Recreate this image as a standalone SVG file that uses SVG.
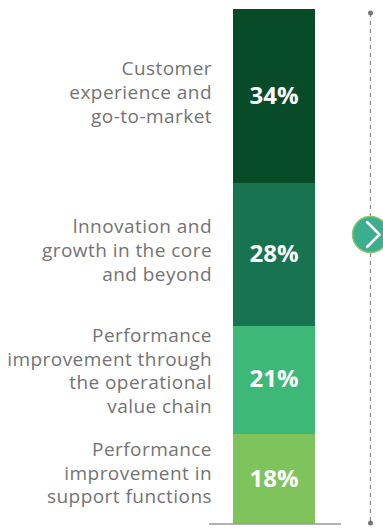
<svg xmlns="http://www.w3.org/2000/svg" width="383" height="528" viewBox="0 0 383 528">
<style>
.lbl{font-family:"Open Sans","Liberation Sans",sans-serif;font-size:19px;fill:#737373;text-anchor:end;letter-spacing:0.45px}
.pct{font-family:"Open Sans","Liberation Sans",sans-serif;font-size:24px;font-weight:bold;fill:#ffffff;text-anchor:middle}
</style>
<rect width="383" height="528" fill="#ffffff"/>
<g id="seg1">
<rect x="233" y="9" width="82" height="174" fill="#074b29"/>
<text class="pct" x="274" y="104">34%</text>
<text class="lbl" x="212" y="75">Customer<tspan x="212" dy="24">experience and</tspan><tspan x="212" dy="24">go-to-market</tspan></text>
</g>
<g id="seg2">
<rect x="233" y="183" width="82" height="143" fill="#177350"/>
<text class="pct" x="274" y="262">28%</text>
<text class="lbl" x="212" y="233">lnnovation and<tspan x="212" dy="24">growth in the core</tspan><tspan x="212" dy="24">and beyond</tspan></text>
</g>
<g id="seg3">
<rect x="233" y="326" width="82" height="108" fill="#3db877"/>
<text class="pct" x="274" y="387">21%</text>
<text class="lbl" x="212" y="342">Performance<tspan x="212" dy="23.7">improvement through</tspan><tspan x="212" dy="23.7">the operational</tspan><tspan x="212" dy="23.7">value chain</tspan></text>
</g>
<g id="seg4">
<rect x="233" y="434" width="82" height="90" fill="#7fc35c"/>
<text class="pct" x="274" y="487">18%</text>
<text class="lbl" x="212" y="456">Performance<tspan x="212" dy="23.5">improvement in</tspan><tspan x="212" dy="23.5">support functions</tspan></text>
</g>
<g id="connectors">
<line x1="209" y1="524" x2="341" y2="524" stroke="#9a9a9a" stroke-width="1.5"/>
<line x1="370.5" y1="13" x2="370.5" y2="523" stroke="#8c8c8c" stroke-width="1.3" stroke-dasharray="4 4"/>
<circle cx="370.5" cy="13" r="2.5" fill="#777"/>
<circle cx="370.5" cy="523" r="2.5" fill="#777"/>
</g>
<g id="next-button">
<circle cx="370.5" cy="234.5" r="18" fill="#3aae8e" stroke="#8ec66c" stroke-width="1.5"/>
<polyline points="367,222 379.5,234.5 367,247" fill="none" stroke="#ffffff" stroke-width="2.5" stroke-linecap="round" stroke-linejoin="round"/>
</g>
</svg>
